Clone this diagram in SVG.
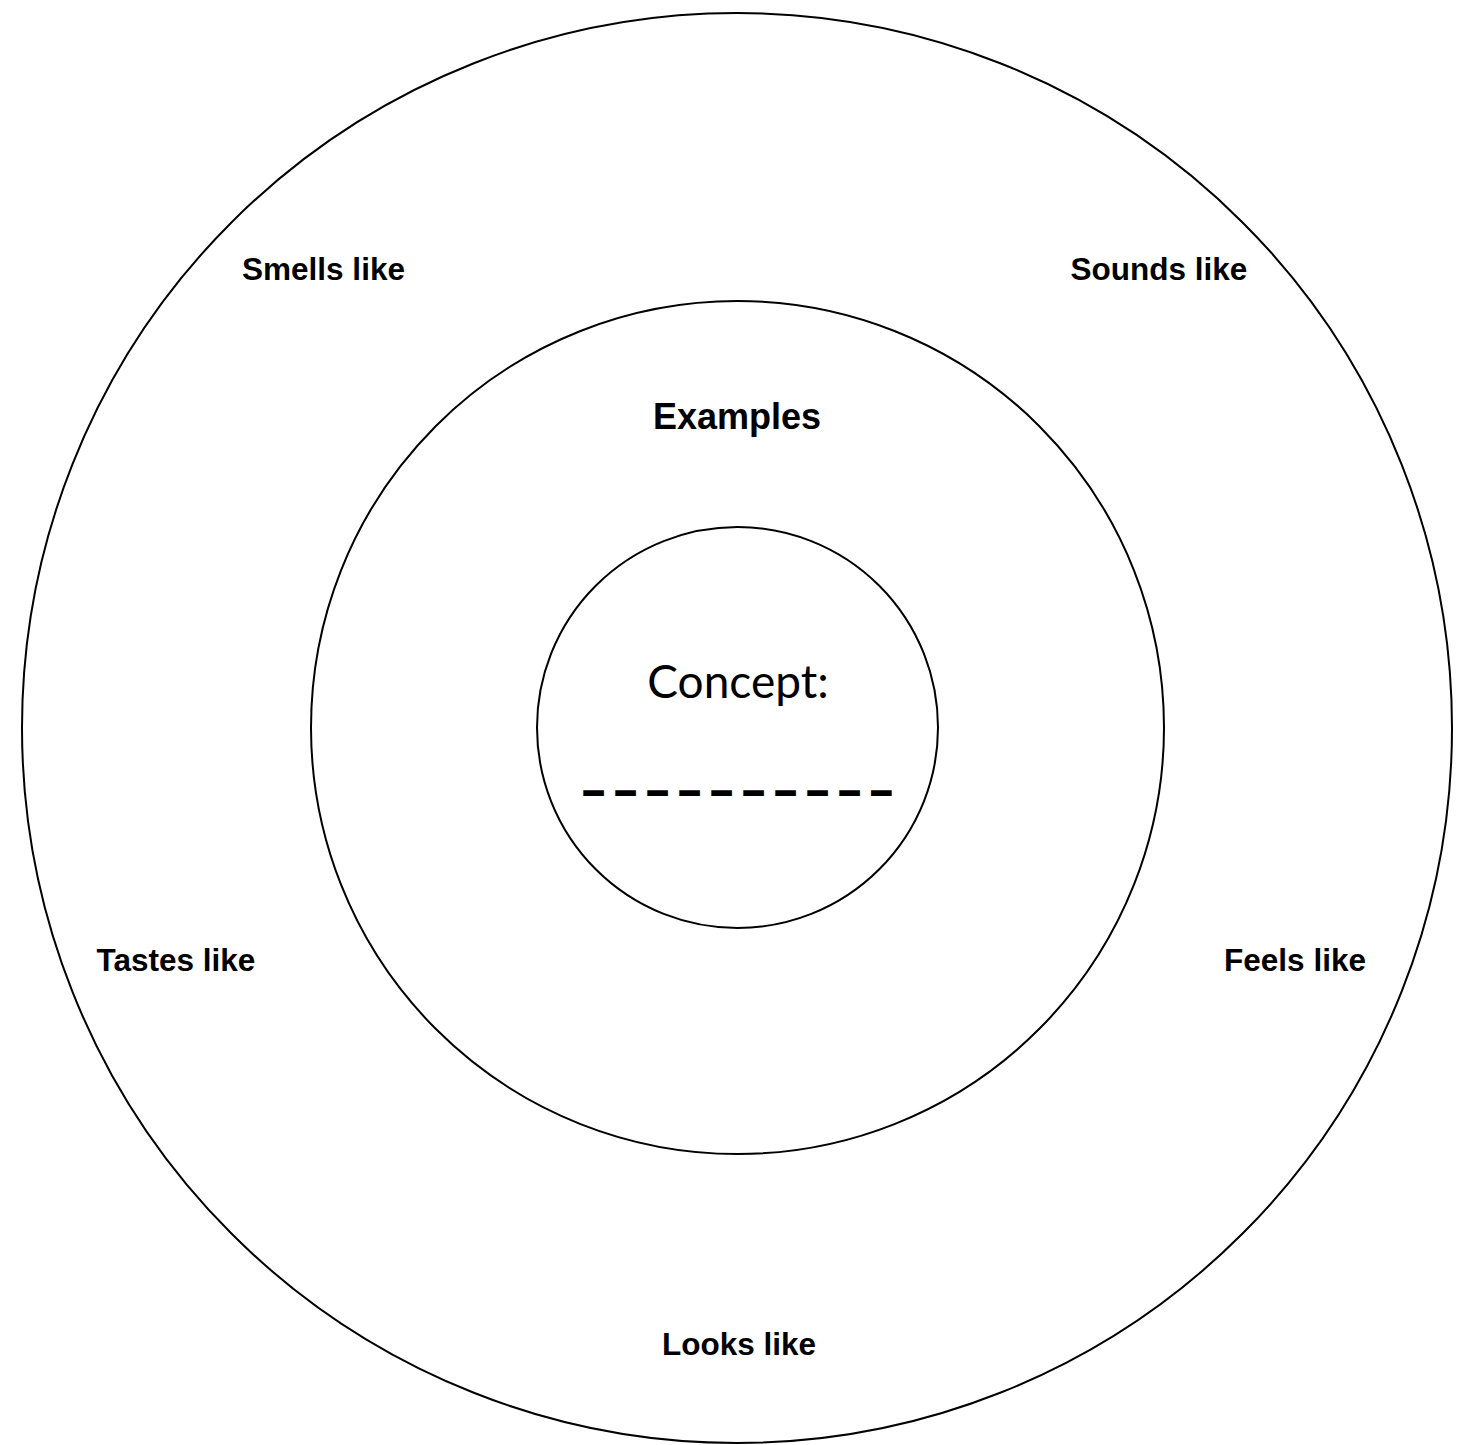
<svg xmlns="http://www.w3.org/2000/svg" width="1462" height="1445" viewBox="0 0 1462 1445">
<style>
.ring{fill:none;stroke:#000;stroke-width:2}
.lbl{font-family:"Liberation Sans",Arial,Helvetica,sans-serif;font-weight:bold;font-size:31.5px;fill:#000;text-anchor:middle}
.concept{font-family:Lato,"Noto Sans",sans-serif;font-weight:400;font-size:46px;fill:#000;text-anchor:middle}
.dash{font-family:"Liberation Sans",Arial,sans-serif;font-weight:bold;font-size:38px;fill:#000;stroke:#000;stroke-width:1.8}
</style>
<rect width="1462" height="1445" fill="#fff"/>
<g id="outer">
<circle class="ring" cx="737" cy="728" r="715"/>
<text class="lbl" x="323.5" y="280">Smells like</text>
<text class="lbl" x="1159" y="280">Sounds like</text>
<text class="lbl" x="176" y="971">Tastes like</text>
<text class="lbl" x="1295" y="971">Feels like</text>
<text class="lbl" x="739" y="1355">Looks like</text>
</g>
<g id="middle">
<circle class="ring" cx="737.5" cy="727.5" r="426.5"/>
<text class="lbl" x="737" y="429" style="font-size:36px">Examples</text>
</g>
<g id="inner">
<circle class="ring" cx="737.5" cy="727.5" r="200.5"/>
<text class="concept" x="738" y="698">Concept:</text>
<text class="dash" x="583" y="804" textLength="309" lengthAdjust="spacing">––––––––––</text>
</g>
<g id="connectors"/>
</svg>
